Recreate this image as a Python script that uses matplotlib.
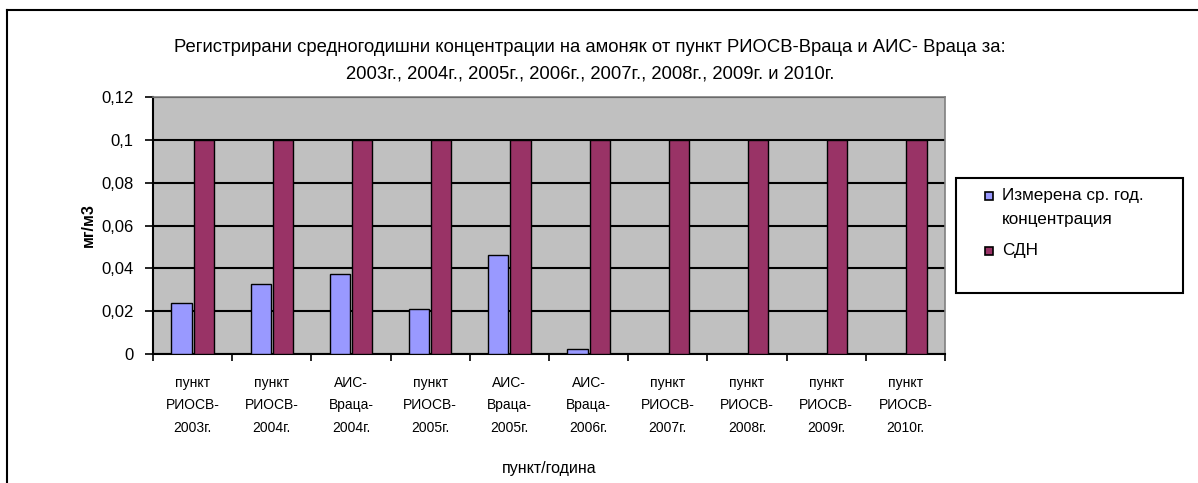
import matplotlib
matplotlib.use('Agg')
import matplotlib.pyplot as plt
import matplotlib.patches as mpatches
from matplotlib.lines import Line2D
import numpy as np

plt.rcParams['font.family'] = ['Liberation Sans', 'DejaVu Sans']

categories = ['пункт\nРИОСВ-\n2003г.', 'пункт\nРИОСВ-\n2004г.', 'АИС-\nВраца-\n2004г.',
              'пункт\nРИОСВ-\n2005г.', 'АИС-\nВраца-\n2005г.', 'АИС-\nВраца-\n2006г.',
              'пункт\nРИОСВ-\n2007г.', 'пункт\nРИОСВ-\n2008г.', 'пункт\nРИОСВ-\n2009г.',
              'пункт\nРИОСВ-\n2010г.']
measured = [0.024, 0.0325, 0.0375, 0.021, 0.046, 0.0025, 0, 0, 0, 0]
limit_sdn = [0.1, 0.1, 0.1, 0.1, 0.1, 0.1, 0.1, 0.1, 0.1, 0.1]
series_names = ['Измерена ср. год.\nконцентрация', 'СДН']
series_colors = ['#9999FF', '#993366']
yticks = [0, 0.02, 0.04, 0.06, 0.08, 0.1, 0.12]
ytick_labels = ['0', '0,02', '0,04', '0,06', '0,08', '0,1', '0,12']

W, H = 1198, 483
fig = plt.figure(figsize=(W / 100, H / 100), dpi=100)
fig.patch.set_facecolor('white')

# plot area in pixel coords
left, right, top, bottom = 153, 945, 97, 354
ax = fig.add_axes([left / W, 1 - bottom / H, (right - left) / W, (bottom - top) / H])
ax.set_facecolor('#C0C0C0')

x = np.arange(len(categories))
bw = 0.255
ax.bar(x - 0.14, measured, bw, color=series_colors[0], edgecolor='black', linewidth=1, zorder=3)
ax.bar(x + 0.14, limit_sdn, bw, color=series_colors[1], edgecolor='black', linewidth=1, zorder=3)

ax.set_xlim(-0.5, len(categories) - 0.5)
ax.set_ylim(0, 0.12)
ax.set_yticks(yticks)
ax.set_yticklabels(ytick_labels, fontsize=12)
ax.yaxis.grid(True, color='black', linewidth=1.5, zorder=1)
ax.set_axisbelow(True)

# category boundaries as major ticks, labels on minor ticks
ax.set_xticks(np.arange(-0.5, len(categories), 1.0))
ax.set_xticklabels([])
ax.set_xticks(x, minor=True)
ax.set_xticklabels(categories, minor=True, fontsize=10, linespacing=1.75)
ax.tick_params(axis='x', which='minor', length=0, pad=16)
ax.tick_params(axis='x', which='major', direction='out', length=5, width=1.2)
ax.tick_params(axis='y', direction='out', length=6, width=1.2, pad=8)

for s in ['top', 'right']:
    ax.spines[s].set_color('#808080')
    ax.spines[s].set_linewidth(1.2)
for s in ['left', 'bottom']:
    ax.spines[s].set_color('black')
    ax.spines[s].set_linewidth(1.5)

ax.set_ylabel('мг/м3', fontsize=11.5, fontweight='bold', labelpad=4)
ax.set_xlabel('пункт/година', fontsize=11.5, labelpad=19)

fig.text(590 / W, 1 - 61 / H,
         'Регистрирани средногодишни концентрации на амоняк от пункт РИОСВ-Враца и АИС- Враца за:\n'
         '2003г., 2004г., 2005г., 2006г., 2007г., 2008г., 2009г. и 2010г.',
         ha='center', va='center', fontsize=13.3, linespacing=1.75)

# legend box, drawn by hand so the marker sits on the first text line
fig.patches.append(mpatches.Rectangle((956 / W, 1 - 293 / H), (1183 - 956) / W, (293 - 178) / H,
                                      transform=fig.transFigure, facecolor='white',
                                      edgecolor='black', linewidth=1.5))
legend_rows = [196, 251]
for name, col, yy in zip(series_names, series_colors, legend_rows):
    fig.patches.append(mpatches.Rectangle((985 / W, 1 - (yy + 4) / H), 8 / W, 8 / H,
                                          transform=fig.transFigure, facecolor=col,
                                          edgecolor='black', linewidth=1.2))
    fig.text(1002 / W, 1 - (yy - 8) / H, name, ha='left', va='top', fontsize=12.3,
             linespacing=1.75)

# outer chart frame (left and top only visible)
fig.add_artist(Line2D([7 / W, 7 / W], [0, 1 - 10 / H], transform=fig.transFigure,
                      color='black', linewidth=1.5))
fig.add_artist(Line2D([7 / W, 1], [1 - 10 / H, 1 - 10 / H], transform=fig.transFigure,
                      color='black', linewidth=1.5))

fig.savefig('out.png', dpi=100, facecolor='white')
